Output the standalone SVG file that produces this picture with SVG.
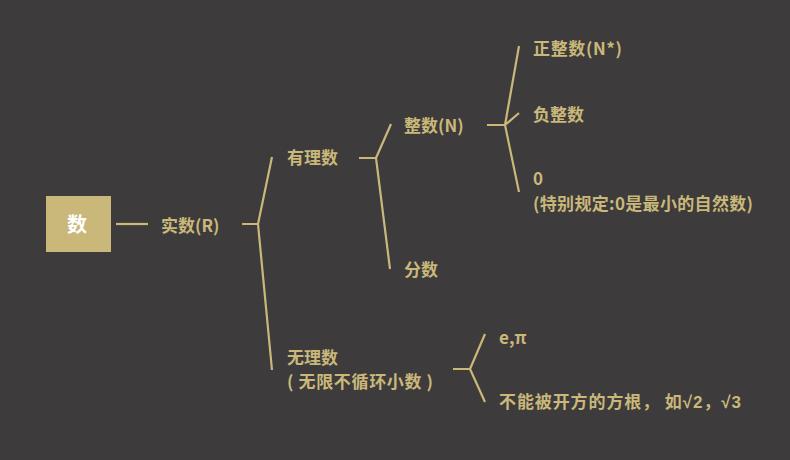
<svg xmlns="http://www.w3.org/2000/svg" width="790" height="460" viewBox="0 0 790 460">
<style>
.t{font-family:"Noto Sans CJK SC","Microsoft YaHei","Liberation Sans",sans-serif;font-weight:bold;font-size:17px;fill:#c9b87a}
.l{font-family:"Liberation Sans",sans-serif}
.c{fill:none;stroke:#c9b87a;stroke-width:2.2;stroke-linejoin:miter}
</style>
<rect width="790" height="460" fill="#3d3b3c"/>
<g id="connectors">
<path class="c" d="M116 224H148"/>
<path class="c" d="M242 224H258M272 157L258 224L272 370"/>
<path class="c" d="M359 158H376M391 124L376 158L390 269"/>
<path class="c" d="M487 125H505M519 46L505 125L519 192M505 125L519 113"/>
<path class="c" d="M453 369H470M485 334L470 369L485 402"/>
</g>
<g id="root">
<rect x="46" y="196" width="65" height="56" fill="#c9b87a"/>
<text x="77" y="231.5" text-anchor="middle" class="t" style="fill:#fff;font-size:20px">数</text>
</g>
<g id="real"><text class="t" x="161" y="232">实数(R)</text></g>
<g id="rational"><text class="t" x="287" y="164">有理数</text></g>
<g id="integer"><text class="t" x="404" y="132">整数(N)</text></g>
<g id="fraction"><text class="t" x="404" y="276">分数</text></g>
<g id="posint"><text class="t" x="533" y="55" textLength="89">正整数(N*)</text></g>
<g id="negint"><text class="t" x="533" y="121">负整数</text></g>
<g id="zero"><text class="t" x="533" y="185">0</text><text class="t" x="533" y="210" textLength="220">(特别规定:0是最小的自然数)</text></g>
<g id="irrational"><text class="t" x="287" y="364">无理数</text><text class="t" x="287" y="388" textLength="146">( 无限不循环小数 )</text></g>
<g id="epi"><text class="t" x="499" y="344">e,π</text></g>
<g id="roots"><text class="t" x="499" y="408" textLength="242">不能被开方的方根， 如<tspan class="l">√2</tspan>，<tspan class="l">√3</tspan></text></g>
</svg>
